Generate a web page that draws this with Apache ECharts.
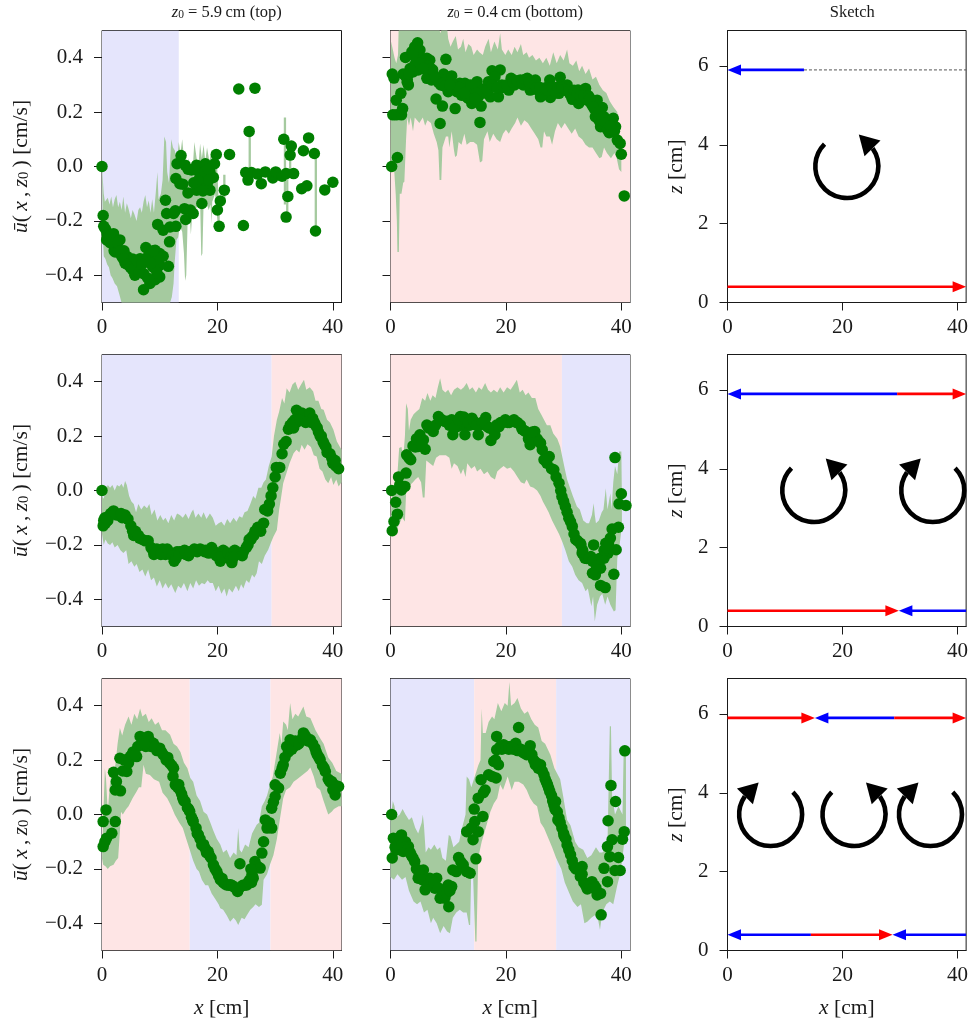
<!DOCTYPE html>
<html><head><meta charset="utf-8">
<style>html,body{margin:0;padding:0;background:#fff}#c{width:971px;height:1023px}</style>
<script src="https://cdn.jsdelivr.net/npm/echarts@6/dist/echarts.min.js"></script>
</head><body><div id="c"></div>
<script>
// ---- tick values
const uTicks=[-0.4,-0.2,0,0.2,0.4];
const xTicks=[0,20,40];
const zTicks=[0,2,4,6];
// ---- sign regions [from,to,sign]
const regions11=[[0,13.3,-1]];
const regions12=[[0,41.5,1]];
const regions21=[[0,29.4,-1],[29.4,41.5,1]];
const regions22=[[0,29.7,1],[29.7,41.5,-1]];
const regions31=[[0,15.2,1],[15.2,29.2,-1],[29.2,41.5,1]];
const regions32=[[0,14.5,-1],[14.5,28.7,1],[28.7,41.5,-1]];
// ---- points [x,u]
const pts11=[[0,0],[.2,-.18],[.3,-.22],[.6,-.23],[.9,-.25],[1.2,-.26],[1.6,-.25],[2,-.247],[1.9,-.27],[2.1,-.31],[2.4,-.29],[2.3,-.314],[2.8,-.31],[3.1,-.27],[3.4,-.33],[3.8,-.31],[4,-.355],[4.3,-.33],[4.6,-.34],[5,-.35],[5.3,-.34],[5.6,-.36],[5.7,-.4],[6.2,-.37],[6.6,-.339],[7.2,-.394],[7.6,-.298],[7.2,-.453],[8.3,-.43],[8,-.33],[8.8,-.369],[9.2,-.308],[9.2,-.416],[10,-.406],[10,-.32],[10,-.363],[10.6,-.33],[11.5,-.367],[11.7,-.277],[9.65,-.213],[10.6,-.234],[11.2,-.173],[11,-.124],[11.8,-.222],[12.4,-.173],[12.7,-.163],[12.8,-.22],[12.8,-.044],[13.5,-.063],[14,-.065],[13,.01],[13.7,.04],[14.4,.005],[14.9,-.01],[15.5,-.013],[14.9,-.097],[14.3,-.155],[14.5,-.195],[15.3,-.16],[15.8,-.173],[16.4,.005],[16.9,.0],[17.9,.01],[17.3,-.136],[16.4,-.087],[17,-.08],[17.6,-.063],[17,-.03],[18,-.04],[18.2,-.07],[18.7,-.087],[18.7,-.02],[19.3,-.04],[19.5,.01],[19.8,.044],[20,-.16],[20.3,-.22],[20.5,-.127],[21.2,-.087],[22.1,.044],[23.7,.285],[26.5,.288],[25.5,.129],[24.5,-.217],[24.9,-.022],[25.3,-.05],[25.9,-.022],[27,-.028],[27.6,-.063],[28.3,-.02],[29.6,-.042],[30.1,-.02],[31.2,-.036],[31.5,.1],[31.9,-.026],[31.9,-.186],[32.2,-.11],[32.6,.042],[32.8,.075],[33.2,-.026],[34.6,-.082],[34.9,.058],[35.5,-.071],[35.8,.105],[36.8,.048],[37,-.237],[38.6,-.086],[40,-.058],[.8,-.27],[1.4,-.28],[2.7,-.28],[3.2,-.31],[3.7,-.34],[4.4,-.36],[4.9,-.37],[5.3,-.38],[6,-.345],[6.4,-.39],[6.9,-.36],[7.9,-.41],[9.5,-.39],[9.6,-.34],[8.4,-.355],[8.9,-.31],[16,-.01],[15.9,-.06],[16.9,-.045],[17.8,-.02],[18.4,-.01],[18.5,-.05],[17.5,-.09]];
const pts12=[[.2,0],[.6,.325],[.3,.34],[.4,.19],[1,.19],[1.9,.19],[2.1,.213],[1,.244],[1.8,.269],[1.2,.033],[2.6,.401],[2.5,.336],[3.1,.3],[2.9,.32],[3.4,.36],[3.9,.348],[4.8,.355],[3.7,.422],[4.7,.455],[4.2,.44],[5.1,.428],[5.4,.398],[6.3,.398],[6.8,.391],[7.3,.355],[6.3,.324],[7.1,.318],[7.9,.248],[9,.222],[8.6,.158],[9.6,.394],[9.2,.34],[9.7,.318],[10.6,.333],[8.7,.3],[10,.275],[11.2,.213],[12,.306],[12.9,.306],[11.5,.275],[12.3,.262],[13.2,.256],[14.1,.232],[15,.312],[14.4,.281],[15.2,.256],[15.7,.222],[15.5,.162],[16.4,.287],[17,.312],[17.6,.352],[19,.355],[18.1,.33],[17.3,.256],[18.7,.256],[19.3,.3],[20.5,.281],[20.9,.324],[21.5,.3],[22.5,.318],[23,.3],[23.7,.324],[24.2,.281],[24.6,.3],[25.1,.318],[25.6,.28],[26,.256],[26.5,.287],[27,.29],[27.6,.318],[27.7,.254],[28.3,.28],[28.8,.29],[29.4,.328],[29.2,.269],[30,.28],[30.6,.3],[31,.27],[31.5,.247],[32,.26],[32.6,.232],[32.5,.281],[33.2,.27],[33.8,.287],[34.1,.244],[34.8,.23],[35.4,.21],[35.8,.244],[36.7,.217],[35.5,.183],[36.4,.146],[36.1,.17],[37,.183],[37.4,.15],[37.9,.124],[38.6,.177],[38.3,.14],[39,.146],[39.3,.097],[39.8,.085],[40,.045],[40.5,-.108],
[10.9,.3],[11.8,.29],[12.6,.285],[13.6,.28],[13.9,.3],[14.7,.3],[15.9,.28],[16.2,.27],[16.8,.28],[17.6,.3],[18.4,.29],[19.6,.29],[20.1,.3],[21.2,.31],[21.9,.315],[22.8,.31],[23.3,.32],[24,.31],[24.9,.3],[25.3,.29],[25.9,.29],[26.3,.265],[26.8,.28],[27.2,.28],[28,.29],[28.6,.27],[29,.29],[29.7,.29],[30.3,.285],[30.9,.28],[31.3,.26],[31.8,.28],[32.3,.265],[32.9,.26],[33.5,.26],[34.3,.26],[34.6,.25],[35.1,.22],[36,.2],[36.6,.18],[37.2,.16],[37.6,.135],[38.1,.15],[38.8,.13],[5.9,.39],[6.6,.37],[4.4,.38],[3.9,.41],[4.1,.37],[5,.38],[2.9,.31],[2.2,.34],[7.7,.33],[8.3,.31],[8.9,.305],[9.4,.295],[10.3,.3],[7,.36],[5.7,.36],[3.2,.34],[14.9,.27],[13.5,.25],[14.6,.25],[12.8,.27]];
const pts21=[[0,0],[.3,-.11],[.6,-.12],[1,-.11],[1.5,-.085],[2,-.075],[2.5,-.09],[3,-.09],[3.5,-.1],[4,-.09],[4.5,-.105],[5,-.13],[5.5,-.165],[6,-.16],[6.5,-.175],[7,-.18],[7.5,-.185],[8,-.185],[8.5,-.21],[9,-.235],[9.5,-.215],[10,-.22],[10.5,-.215],[11,-.235],[11.5,-.225],[12,-.23],[12.5,-.26],[13,-.225],[13.5,-.225],[14,-.225],[14.5,-.235],[15,-.24],[15.5,-.225],[16,-.215],[16.5,-.225],[17,-.215],[17.5,-.22],[18,-.22],[18.5,-.23],[19,-.21],[19.5,-.225],[20,-.235],[20.5,-.26],[21,-.22],[21.5,-.245],[22,-.25],[22.5,-.265],[23,-.22],[23.5,-.23],[24,-.23],[24.5,-.225],[25,-.21],[25.5,-.18],[26,-.17],[26.5,-.15],[27,-.135],[27.5,-.15],[28,-.12],[28.2,-.07],[28.7,-.075],[29,-.05],[29.3,-.02],[29.6,.01],[30,.05],[30.2,.085],[30.8,.085],[31.2,.135],[31.5,.17],[31.9,.18],[32.3,.225],[32.6,.24],[33,.25],[33.4,.26],[33.7,.295],[34.2,.275],[34.6,.285],[35,.28],[35.5,.27],[36,.285],[36.5,.265],[37,.24],[37.5,.215],[38,.2],[38.5,.17],[39,.14],[39.5,.135],[40,.1],[40.5,.09],[41,.08],
[8.8,-.22],[9.3,-.23],[10.2,-.235],[11.3,-.215],[12.2,-.24],[12.8,-.25],[13.3,-.235],[14.3,-.22],[15.2,-.225],[17.8,-.225],[19.8,-.24],[20.3,-.245],[20.8,-.245],[21.8,-.23],[22.3,-.245],[22.8,-.245],[24.3,-.24],[1.2,-.095],[2.3,-.085],[3.3,-.085],[4.2,-.1],[5.3,-.15],[5.8,-.15],[6.3,-.165],[.2,-.13],[.5,-.1],[25.3,-.2],[25.8,-.18],[26.3,-.165],[26.8,-.145],[33.2,.23],[33.7,.25],[34.3,.26],[35.3,.25],[36.3,.25],[36.8,.25],[37.3,.23],[37.8,.2],[38.3,.18],[38.8,.16],[39.8,.12],[40.4,.11]];
const pts22=[[.2,0],[.3,-.148],[.6,-.114],[1.2,-.087],[.9,-.043],[1.6,.02],[1.9,.002],[2.5,.015],[1.4,.05],[2.7,.064],[2.8,.131],[3.5,.113],[3.9,.164],[4.8,.162],[6,.152],[5.1,.205],[5.7,.186],[6.3,.241],[6.9,.23],[7.4,.217],[8.3,.272],[8.9,.26],[9.4,.254],[10,.25],[10.8,.205],[10.6,.26],[11.2,.25],[12.1,.272],[11.5,.235],[12.4,.24],[12.9,.205],[13.2,.24],[14.1,.266],[13.7,.24],[14.6,.245],[15.2,.205],[15.5,.241],[16,.245],[16.5,.268],[16.8,.235],[17.4,.184],[18.1,.205],[18.4,.241],[19.1,.25],[19.9,.26],[20.6,.25],[21.4,.26],[22,.25],[22.5,.241],[23.4,.217],[23.9,.19],[24.2,.168],[25,.217],[25.4,.19],[26,.174],[26.6,.113],[27.5,.125],[27.1,.1],[27.9,.08],[28.3,.076],[28.7,.05],[29.2,.027],[29.5,0],[29.7,-.022],[30,-.04],[30.3,-.059],[30.9,-.102],[31.5,-.132],[32.1,-.18],[32.9,-.194],[33.3,-.22],[33.7,-.249],[34.7,-.243],[35.2,-.2],[35,-.304],[35.5,-.31],[36,-.27],[36.4,-.286],[36.4,-.349],[37.2,-.357],[38.7,-.308],[37.3,-.194],[38.1,-.175],[39.1,-.218],[37,-.249],[37.7,-.23],[38.4,-.142],[39.5,-.135],[38.9,.121],[40,-.012],[39.6,-.049],[40.8,-.055],
[6.6,.23],[7.8,.24],[8.6,.26],[9.8,.255],[10.2,.24],[11,.23],[11.8,.26],[12.7,.27],[13.4,.25],[14.4,.255],[14.9,.24],[15.8,.25],[16.3,.25],[17.1,.23],[17.9,.22],[18.8,.235],[19.5,.25],[20.3,.25],[21,.255],[21.8,.25],[22.8,.225],[23.2,.22],[24.5,.19],[24.6,.215],[25.7,.18],[26.3,.15],[26.9,.115],[30.6,-.08],[31.2,-.115],[31.8,-.16],[32.4,-.185],[33,-.2],[33.2,-.23],[34,-.25],[34.4,-.25],[35,-.26],[35.7,-.28],[36.2,-.25],[36.6,-.25],[37,-.22],[37.4,-.21],[37.8,-.2],[4.3,.16],[4.5,.19],[3.2,.12],[5.4,.17]];
const pts31=[[.7,.017],[.2,-.026],[.2,-.118],[.5,-.1],[.8,-.087],[1.7,-.069],[2.3,-.026],[2,.155],[2.3,.09],[2.5,.121],[3.2,.087],[3.1,.207],[3.6,.16],[4.3,.158],[3.9,.2],[4.9,.213],[5.4,.23],[6,.213],[6.6,.287],[6.2,.25],[7.2,.269],[7.6,.25],[8,.287],[8.5,.25],[8.9,.262],[9.5,.235],[10,.244],[10.6,.22],[11.1,.201],[11.7,.19],[12.4,.17],[12.3,.14],[12.7,.109],[13.1,.1],[13.5,.09],[14,.06],[14.4,.048],[14.8,.025],[15.2,.011],[15.5,-.01],[15.8,-.026],[16.3,-.05],[16.7,-.075],[17,-.09],[17.3,-.112],[17.9,-.125],[18.4,-.136],[18.9,-.16],[19.3,-.185],[19.9,-.21],[20.5,-.24],[21,-.25],[21.6,-.259],[22.2,-.258],[22.8,-.265],[23.5,-.283],[23.9,-.181],[24.4,-.26],[25.1,-.259],[25.6,-.24],[26.2,-.234],[26.5,-.173],[26.9,-.19],[27.4,-.197],[27.7,-.142],[28,-.1],[28.3,-.02],[28.6,-.05],[29,-.03],[29.4,-.05],[29.4,.023],[29.7,.045],[30,.066],[30,.109],[30.6,.097],[30.9,.152],[31.4,.183],[31.2,.17],[32,.25],[31.7,.21],[32.6,.275],[33.2,.25],[33.8,.256],[34.4,.27],[34.9,.3],[35.5,.28],[36.1,.275],[36.5,.26],[36.9,.244],[37.3,.22],[37.8,.201],[38.2,.18],[38.7,.158],[39.2,.13],[39.8,.121],[40.4,.072],[40.2,.11],[41,.103],
[8.3,.27],[9.2,.25],[10.3,.23],[11.4,.21],[12.1,.18],[13.3,.11],[13.8,.075],[14.2,.05],[15,.02],[15.7,-.02],[16.5,-.07],[17.6,-.11],[18.1,-.14],[18.6,-.15],[19.6,-.2],[20.2,-.225],[20.8,-.235],[21.3,-.255],[22,-.26],[22.5,-.26],[23.1,-.27],[23.8,-.27],[24.7,-.26],[25.3,-.25],[25.9,-.25],[32.3,.23],[32.9,.24],[33.5,.27],[34.1,.26],[34.7,.28],[35.2,.29],[35.8,.27],[37.1,.23],[37.6,.21],[38.5,.17],[39.5,.12],[40,.09],[4.6,.19],[5.2,.22],[5.7,.22],[6.9,.26],[7.4,.26],[26,-.22],[25.8,-.2]];
const pts32=[[.2,0],[.3,-.16],[.5,-.087],[1,-.13],[1.4,-.09],[1.9,-.075],[2.2,-.136],[2.6,-.1],[3.1,-.118],[3.6,-.15],[4.2,-.173],[4.8,-.234],[5.7,-.204],[5.2,-.22],[6,-.277],[6.8,-.234],[8,-.234],[7.2,-.25],[7.7,-.271],[8.6,-.308],[9.4,-.308],[10.1,-.339],[10,-.259],[10.6,-.265],[10.8,-.204],[11.4,-.21],[11.8,-.158],[12.2,-.175],[12.6,-.185],[13.2,-.21],[13.8,-.216],[13.2,-.063],[14.3,-.093],[15.2,-.063],[14.8,-.163],[14.6,-.026],[14,-.05],[14.5,.02],[15.2,.06],[16,-.007],[15.7,.128],[16.4,.09],[16.1,.08],[17,.146],[18.3,.134],[17.6,.14],[17.9,.195],[18.7,.183],[18.2,.2],[18.4,.287],[18.4,.238],[19,.25],[19.6,.256],[20.2,.25],[20.8,.25],[21.3,.24],[21.7,.262],[22.2,.32],[22.6,.24],[23.1,.226],[23.6,.22],[24.2,.253],[24.8,.2],[25.1,.183],[26,.183],[25.6,.17],[26.6,.146],[27,.12],[27.4,.097],[27.9,.07],[28.3,.036],[28.6,.048],[28.9,.01],[29.2,-.013],[29.7,-.05],[30.1,-.08],[30.6,-.112],[31.2,-.148],[31.8,-.191],[33.2,-.191],[32.4,-.2],[32.9,-.228],[33.5,-.25],[34.1,-.274],[34.9,-.247],[35.3,-.26],[35.8,-.296],[36.5,-.369],[36.4,-.29],[37,-.198],[37.6,-.247],[37.6,-.118],[38,-.155],[38.2,.107],[37.7,-.023],[39,.048],[38.4,-.093],[39.5,-.158],[38.9,-.206],[39.8,-.206],[40.2,-.091],[40.5,-.063],[40.6,.234],
[19.3,.24],[20,.245],[20.5,.24],[21,.245],[22,.235],[22.4,.235],[22.9,.23],[23.4,.235],[24,.24],[24.5,.22],[25.3,.19],[25.8,.18],[26.3,.16],[26.8,.13],[27.2,.11],[27.6,.085],[28.1,.05],[28.5,.02],[29,-.02],[29.4,-.03],[30,-.07],[30.4,-.09],[30.9,-.13],[31.5,-.17],[32.1,-.2],[32.7,-.205],[33.2,-.22],[33.8,-.26],[34.5,-.26],[35.1,-.27],[35.6,-.27],[.8,-.12],[1.2,-.11],[1.6,-.085],[2,-.11],[2.4,-.12],[2.9,-.13],[3.4,-.14],[3.9,-.16],[4.5,-.2],[5,-.22],[5.5,-.24],[6.4,-.26],[7,-.24],[7.5,-.25],[8.3,-.27],[9,-.29],[9.7,-.29],[10.3,-.28]];
// ---- spread envelope, upper and lower edges [x,u]
const hi11=[[0,0],[.3,-.1],[.5,-.13],[.8,-.12],[1,-.115],[1.3,-.14],[1.6,-.11],[1.9,-.15],[2.2,-.12],[2.5,-.105],[2.8,-.15],[3.1,-.13],[3.4,-.16],[3.7,-.11],[4,-.17],[4.3,-.135],[4.6,-.155],[5,-.19],[5.3,-.16],[5.6,-.175],[6,-.2],[6.3,-.16],[6.6,-.15],[6.9,-.17],[7.2,-.13],[7.5,-.105],[7.8,-.15],[8.1,-.125],[8.4,-.17],[8.7,-.12],[9,-.17],[9.3,-.1],[9.6,-.02],[9.8,-.12],[10.2,-.1],[10.5,-.05],[10.8,.11],[11.1,.09],[11.3,-.02],[11.6,-.06],[12,.1],[12.3,.07],[12.6,.06],[13,.02],[13.3,.09],[13.6,.05],[13.9,.1],[14.2,.03],[14.6,-.02],[15,.03],[15.4,-.03],[15.8,.02],[16,.09],[16.4,.03],[16.7,0],[17,.085],[17.3,.03],[17.6,.08],[17.9,.02],[18.2,.07],[18.6,.02],[19,.06],[19.4,.05],[19.9,.03],[20,-.02],[20.2,-.12],[20.4,-.13]];
const lo11=[[0,0],[.15,-.25],[.3,-.33],[.6,-.34],[.9,-.36],[1.2,-.37],[1.5,-.4],[1.8,-.41],[2.2,-.43],[2.6,-.44],[3,-.47],[3.5,-.51],[3.8,-.55],[11.5,-.55],[11.8,-.5],[12.1,-.48],[12.4,-.43],[12.6,-.35],[12.9,-.27],[13.2,-.26],[13.5,-.22],[13.9,-.24],[14.2,-.32],[14.4,-.42],[14.6,-.4],[14.9,-.15],[15.2,-.18],[15.4,-.25],[15.7,-.16],[16,-.19],[16.5,-.14],[17,-.13],[17.2,-.33],[17.4,-.32],[17.6,-.14],[18,-.13],[18.5,-.16],[18.8,-.14],[19,-.21],[19.1,-.13],[19.6,-.1],[20,-.2],[20.2,-.23],[20.4,-.2]];
const strips11=[[21,-.03,-.12],[25.4,.12,-.03],[31.5,.18,-.14],[31.9,-.02,-.17],[36.85,.05,-.24],[32.4,.05,-.03]];
const hi12=[[0,0],[.1,.46],[.4,.43],[.7,.4],[1,.38],[1.3,.41],[1.4,.496],[1.8,.53],[2.5,.56],[7,.56],[8.2,.55],[8.6,.49],[9,.51],[9.6,.55],[10,.47],[10.4,.44],[10.8,.46],[11.3,.48],[11.7,.43],[12.2,.44],[12.6,.47],[13,.42],[13.5,.45],[14,.44],[14.4,.41],[15,.43],[15.4,.42],[16,.41],[16.4,.44],[17,.47],[17.4,.42],[18,.46],[18.6,.43],[19,.49],[19.3,.43],[19.9,.41],[20.4,.43],[21,.41],[21.5,.44],[22,.42],[22.6,.45],[23,.41],[23.6,.42],[24,.4],[24.6,.41],[25.2,.39],[25.8,.4],[26.4,.38],[27,.4],[27.6,.37],[28.2,.42],[28.8,.38],[29.4,.41],[30,.39],[30.6,.43],[31,.38],[31.6,.37],[32.2,.39],[32.7,.35],[33.2,.37],[33.8,.34],[34.4,.36],[35,.32],[35.6,.33],[36.2,.3],[36.8,.28],[37.4,.27],[38,.24],[38.6,.22],[39.3,.2],[39.6,.1],[40,.08]];
const lo12=[[0,0],[.3,.0],[.6,.0],[.9,-.1],[1.1,-.2],[1.2,-.314],[1.45,-.314],[1.6,-.1],[1.9,-.1],[2.2,-.06],[2.4,-.056],[2.7,.1],[2.9,.18],[3.2,.15],[3.5,.18],[3.9,.13],[4.2,.18],[4.6,.17],[5,.16],[5.6,.18],[6,.15],[6.4,.17],[7,.16],[7.5,.12],[8,.09],[8.3,.06],[8.5,-.05],[8.8,-.05],[9,.07],[9.6,.11],[10,.11],[10.2,.07],[10.6,.13],[11,.06],[11.2,.035],[11.5,.04],[11.8,.09],[12.3,.08],[12.8,.12],[13.2,.08],[13.8,.09],[14.4,.09],[15,.08],[15.5,.015],[15.9,.02],[16.2,.1],[16.8,.13],[17.2,.09],[17.8,.12],[18.4,.1],[19,.09],[19.5,.12],[20,.135],[20.5,.12],[21,.14],[21.6,.16],[22,.18],[22.6,.15],[23.2,.17],[23.8,.16],[24.4,.14],[25,.12],[25.6,.1],[26,.07],[26.3,.07],[26.6,.13],[27,.11],[27.6,.11],[28,.08],[28.5,.13],[29,.16],[29.6,.14],[30.2,.16],[30.8,.14],[31.4,.12],[32,.14],[32.6,.11],[33.2,.1],[33.8,.08],[34.4,.07],[35,.07],[35.6,.05],[36.2,.03],[36.6,.035],[37,.07],[37.5,.05],[38.2,.03],[38.8,.05],[39.2,.03],[39.6,-.01],[40,-.02]];
const hi21=[[0,-.02],[.3,-.03],[.6,.0],[1,.02],[1.4,.01],[1.8,.02],[2.2,.0],[2.6,.02],[3,.015],[3.4,.025],[3.7,.01],[4,.035],[4.3,.02],[4.7,-.02],[5.1,-.04],[5.5,-.05],[5.9,-.08],[6.3,-.05],[6.8,-.07],[7.3,-.055],[7.8,-.065],[8.2,-.05],[8.6,-.09],[9.1,-.07],[9.6,-.11],[10.1,-.09],[10.6,-.11],[11,-.1],[11.5,-.12],[12,-.09],[12.5,-.11],[13,-.085],[13.5,-.09],[14,-.1],[14.5,-.085],[15,-.105],[15.5,-.08],[15.8,-.07],[16.2,-.1],[16.7,-.085],[17.2,-.1],[17.6,-.08],[18.1,-.105],[18.7,-.085],[19.2,-.1],[19.7,-.13],[20.2,-.12],[20.7,-.115],[21.2,-.13],[21.7,-.105],[22.2,-.12],[22.8,-.1],[23.3,-.115],[23.8,-.095],[24.3,-.1],[24.7,-.08],[25.2,-.075],[25.7,-.05],[26.2,-.02],[26.6,-.03],[27.1,.01],[27.6,.01],[28,.03],[28.4,.04],[28.9,.09],[29.4,.125],[29.8,.2],[30.3,.26],[30.7,.29],[31.2,.34],[31.6,.32],[32,.376],[32.5,.36],[33,.39],[33.5,.4],[34,.37],[34.5,.39],[35,.407],[35.4,.37],[36,.38],[36.6,.364],[37,.33],[37.5,.33],[38,.3],[38.4,.297],[39,.26],[39.5,.25],[40.1,.223],[40.7,.18],[41.5,.15]];
const lo21=[[0,-.16],[.3,-.2],[.6,-.18],[1,-.195],[1.4,-.2],[1.8,-.19],[2.2,-.21],[2.7,-.2],[3.2,-.22],[3.7,-.23],[4.2,-.22],[4.6,-.27],[5.1,-.26],[5.6,-.28],[6,-.27],[6.5,-.3],[7,-.29],[7.5,-.316],[8,-.29],[8.5,-.33],[9,-.32],[9.5,-.353],[10,-.33],[10.5,-.36],[11,-.34],[11.5,-.36],[12,-.345],[12.7,-.377],[13.2,-.35],[13.7,-.36],[14.2,-.34],[14.8,-.37],[15.3,-.34],[15.8,-.36],[16.3,-.33],[16.8,-.35],[17.3,-.34],[17.8,-.345],[18.3,-.33],[18.7,-.34],[19.2,-.34],[19.7,-.37],[20.2,-.35],[20.7,-.38],[21.2,-.36],[21.6,-.39],[22,-.36],[22.6,-.375],[23.2,-.35],[23.7,-.37],[24.1,-.345],[24.5,-.36],[25,-.33],[25.5,-.34],[26,-.31],[26.4,-.32],[26.8,-.304],[27.2,-.26],[27.7,-.27],[28.2,-.24],[28.8,-.218],[29.3,-.19],[29.7,-.17],[30.3,-.145],[30.7,-.07],[31,-.03],[31.4,.027],[31.9,.06],[32.5,.1],[33.2,.137],[33.7,.15],[34.2,.14],[34.6,.168],[35.1,.15],[35.6,.17],[36.2,.16],[36.7,.13],[37.2,.125],[37.7,.08],[38.2,.07],[38.7,.04],[39.2,.027],[39.7,.05],[40.1,.02],[40.6,.04],[41,.015],[41.5,.03]];
const hi22=[[0,-.1],[.3,-.02],[.6,.0],[.8,.05],[1.1,.03],[1.5,.156],[1.9,.16],[2.2,.12],[2.5,.2],[2.7,.321],[3,.3],[3.2,.22],[3.5,.26],[4,.28],[4.5,.29],[5,.3],[5.5,.34],[6,.33],[6.4,.358],[6.9,.33],[7.3,.35],[7.8,.34],[8.2,.38],[8.6,.413],[9,.37],[9.5,.36],[10,.37],[10.5,.35],[11,.37],[11.6,.38],[12.2,.37],[12.7,.38],[13.2,.395],[13.7,.37],[14.2,.38],[14.8,.36],[15.3,.38],[15.8,.37],[16.4,.395],[16.9,.37],[17.4,.36],[17.9,.37],[18.5,.36],[19,.38],[19.6,.36],[20.2,.38],[20.8,.37],[21.4,.39],[21.9,.407],[22.4,.36],[22.9,.37],[23.4,.35],[23.9,.36],[24.5,.34],[25.1,.34],[25.6,.3],[26.1,.28],[26.6,.26],[27.1,.24],[27.7,.24],[28.2,.21],[28.9,.19],[29.4,.162],[29.8,.12],[30.2,.08],[30.6,.04],[31.1,.01],[31.6,-.02],[32.3,-.059],[32.8,-.07],[33.4,-.11],[34,-.12],[34.4,-.12],[34.9,-.09],[35.2,-.047],[35.4,-.09],[35.6,-.12],[36.1,-.11],[36.6,-.08],[36.9,-.07],[37.3,.008],[37.6,-.07],[38.1,-.01],[38.3,-.07],[38.6,.03],[38.9,.09],[39.3,.06],[39.6,.143],[40,.143],[40.1,-.03]];
const lo22=[[0,-.17],[.4,-.16],[.9,-.15],[1.4,-.13],[2,-.1],[2.5,-.114],[2.7,-.01],[3,.03],[3.4,.02],[3.9,.03],[4.3,.04],[4.8,.05],[5.3,.03],[5.6,-.026],[5.9,-.026],[6.2,.11],[6.8,.1],[7.4,.09],[7.9,.12],[8.5,.13],[9,.13],[9.6,.13],[10.2,.12],[10.6,.08],[11,.1],[11.6,.09],[12.2,.06],[12.6,.08],[13,.05],[13.3,.1],[14,.08],[14.6,.09],[15,.07],[15.6,.08],[16.2,.06],[16.8,.07],[17.4,.05],[18.1,.04],[18.5,.07],[19,.08],[19.6,.09],[20.2,.08],[20.8,.085],[21.4,.07],[22,.05],[22.6,.03],[23.2,.025],[23.6,.04],[24.2,.015],[24.8,.01],[25.4,.0],[26,-.02],[26.4,-.04],[26.9,-.06],[27.4,-.08],[28,-.11],[28.6,-.135],[29.2,-.16],[29.8,-.19],[30.3,-.22],[30.9,-.26],[31.5,-.28],[32,-.31],[32.6,-.33],[33.2,-.34],[33.8,-.37],[34.2,-.36],[34.8,-.426],[35.1,-.39],[35.4,-.482],[35.8,-.42],[36.3,-.39],[36.7,-.38],[37.2,-.42],[37.6,-.39],[38.1,-.42],[38.7,-.445],[39,-.44],[39.3,-.25],[39.7,-.2],[40.1,-.13]];
const hi31=[[0,-.17],[.2,-.02],[.5,.17],[.7,.13],[1,.01],[1.4,.12],[1.8,.16],[2.3,.18],[2.7,.26],[3.1,.318],[3.5,.29],[4,.33],[4.6,.36],[5.1,.33],[5.6,.37],[6.1,.35],[6.6,.39],[7,.36],[7.6,.37],[8.1,.34],[8.6,.354],[9.2,.33],[9.8,.34],[10.4,.31],[11,.31],[11.8,.293],[12.4,.26],[13,.25],[13.6,.23],[14.2,.19],[14.8,.17],[15.3,.134],[15.8,.12],[16.4,.07],[17,.05],[17.6,.01],[18.2,0],[18.7,-.026],[19.3,-.06],[19.9,-.09],[20.5,-.11],[21,-.14],[21.6,-.13],[22.2,-.16],[22.8,-.14],[23.3,-.15],[23.6,-.05],[23.85,-.13],[24.2,-.14],[24.8,-.11],[25.4,-.12],[26,-.07],[26.8,-.038],[27.2,-.03],[27.7,.03],[28.2,.05],[28.6,.07],[29.1,.109],[29.6,.14],[30.2,.22],[30.8,.3],[31.1,.26],[31.4,.342],[31.9,.33],[32.2,.31],[32.6,.41],[33,.35],[33.5,.37],[34,.36],[34.9,.397],[35.4,.36],[36.1,.355],[36.6,.33],[37,.31],[37.8,.28],[38.4,.26],[39.2,.21],[39.9,.19],[40.6,.16],[41.5,.15]];
const lo31=[[0,-.16],[.2,-.185],[.6,-.19],[1,-.2],[1.4,-.19],[2,-.185],[2.4,-.17],[2.8,-.16],[3.1,-.063],[3.3,.01],[3.6,.0],[4.2,.02],[4.6,.03],[5.3,.06],[6,.085],[6.4,.1],[6.8,.1],[7.2,.183],[7.6,.15],[8.3,.145],[9,.13],[9.9,.12],[10.5,.08],[11.3,.06],[12,.03],[12.6,0],[13.4,-.03],[14,-.05],[14.6,-.09],[15.2,-.13],[15.8,-.17],[16.4,-.2],[16.8,-.21],[17.3,-.24],[17.9,-.26],[18.4,-.26],[19,-.29],[19.6,-.31],[20.2,-.33],[20.5,-.345],[21,-.35],[21.6,-.37],[22.2,-.394],[22.8,-.38],[23.2,-.39],[23.6,-.406],[24.2,-.38],[24.7,-.385],[25.1,-.37],[25.7,-.35],[26.2,-.34],[26.6,-.33],[27.2,-.34],[27.7,-.332],[28,-.24],[28.6,-.22],[29.1,-.185],[29.7,-.15],[30.3,-.09],[30.8,-.02],[31.4,.06],[31.9,.09],[32.6,.1],[33.2,.12],[33.8,.13],[34.4,.14],[35,.15],[35.6,.16],[36.1,.173],[36.7,.14],[37.2,.1],[37.8,.09],[38.4,.05],[39.2,.0],[39.8,.01],[40.2,.02],[41,.03],[41.5,.03]];
const hi32=[[0,-.02],[.4,.05],[.7,.03],[1,-.01],[1.6,0],[2.1,.02],[2.6,0],[3.2,-.02],[3.7,-.01],[4.3,-.05],[4.8,-.07],[5.4,-.03],[5.6,.0],[5.8,-.04],[6.1,-.14],[6.6,-.12],[7,-.13],[7.6,-.11],[8.1,-.13],[8.6,-.12],[9,-.16],[9.6,-.17],[10.1,-.075],[10.4,-.08],[10.9,-.12],[11.4,-.11],[11.9,-.1],[12.4,-.05],[13,.0],[13.2,.14],[13.6,.13],[14,.1],[14.6,.14],[15.2,.18],[15.6,.2],[15.8,.39],[16,.3],[16.5,.3],[17,.34],[17.6,.36],[18,.35],[18.6,.41],[19.2,.38],[19.8,.41],[20.3,.4],[20.6,.487],[20.9,.4],[21.5,.41],[22,.428],[22.6,.39],[23.2,.37],[23.8,.38],[24.4,.35],[25,.33],[25.6,.32],[26.2,.27],[26.8,.26],[27.7,.22],[28.4,.17],[29.4,.13],[29.9,.07],[30.6,-.02],[31.2,-.04],[32,-.1],[32.6,-.12],[33.4,-.13],[34.1,-.16],[34.8,-.15],[35.6,-.12],[36.2,-.14],[36.7,-.14],[37.2,-.13],[37.6,-.11],[38,.324],[38.2,.324],[38.4,.07],[38.9,.0],[39.5,.03],[40.2,0],[40.4,.23],[40.8,.23]];
const lo32=[[0,-.23],[.6,-.24],[1.2,-.22],[2,-.24],[2.6,-.23],[3.2,-.28],[4,-.32],[4.6,-.33],[5.2,-.32],[5.8,-.36],[6.4,-.35],[7,-.4],[7.4,-.38],[8,-.4],[8.6,-.437],[9.2,-.41],[9.8,-.43],[10.3,-.437],[10.8,-.38],[11.4,-.36],[12,-.35],[12.6,-.36],[13.2,-.36],[13.6,-.406],[13.8,-.406],[14,-.2],[14.3,-.22],[14.7,-.467],[14.9,-.467],[15.2,-.16],[15.8,-.1],[16.5,-.05],[17.3,.01],[17.9,.04],[18.5,.06],[19,.11],[19.5,.09],[20.3,.14],[21,.09],[21.5,.12],[22.2,.12],[23,.11],[23.6,.09],[24.2,.06],[24.8,.04],[25.4,.03],[26,-.03],[26.6,-.05],[27.4,-.09],[28,-.12],[28.7,-.16],[29.6,-.2],[30.2,-.25],[31,-.29],[31.6,-.32],[32.4,-.34],[33,-.33],[33.6,-.4],[34.1,-.394],[34.8,-.38],[35.4,-.37],[36,-.39],[36.3,-.424],[36.7,-.36],[37.4,-.33],[38,-.32],[38.6,-.33],[39.3,-.26],[39.9,-.21],[40.3,-.14],[40.8,-.05]];
// ---- sketch arrows [from,to,z]; vortices [x,z,turn]
const surf1=[[13.3,0,5.9],[0,41.5,.4]];
const surf2=[[29.5,0,5.9],[29.5,41.5,5.9],[0,29.8,.4],[41.5,29.8,.4]];
const surf3=[[0,15.2,5.9],[29,15.2,5.9],[29,41.5,5.9],[14.5,0,.4],[14.5,28.7,.4],[41.5,28.7,.4]];
const restLine1=[[13.3,5.9],[41.5,5.9]];
const vort1=[[20.75,3.45,1]];
const vort2=[[15,3.45,1],[35.7,3.45,-1]];
const vort3=[[7.5,3.45,-1],[22,3.45,1],[35.3,3.45,-1]];
// ---- labels
const titles=[['5.9','top'],['0.4','bottom']];

const INK='#1a1a1a', FONT='"Liberation Serif","Times New Roman",serif';
const GREEN='#007f00', BAND='#a5ca9f';
const RED_BG='#fee5e5', BLUE_BG='#e5e5fc';
const colL=[102,390.5,727.5], rowT=[30.5,354.5,678.5], W=239.5, H=272;
const TICK=21, NAME=21.5;

const sty=(size,extra)=>Object.assign({fontFamily:FONT,fontSize:size,color:INK,fontWeight:'normal'},extra||{});
const rich={i:sty(NAME,{fontStyle:'italic'}),s:sty(14.5,{verticalAlign:'bottom',lineHeight:21}),n:sty(NAME)};
const richT={i:sty(16.5,{fontStyle:'italic'}),s:sty(11.5,{verticalAlign:'bottom',lineHeight:16}),n:sty(16.5)};

const opt={animation:false,backgroundColor:'#fff',grid:[],xAxis:[],yAxis:[],series:[],
  title:[
   {text:`{i|z}{s|0}{n| = ${titles[0][0]}\u2009cm (${titles[0][1]})}`,left:colL[0]+W/2,top:-1,textAlign:'center',textStyle:{rich:richT,fontWeight:'normal'}},
   {text:`{i|z}{s|0}{n| = ${titles[1][0]}\u2009cm (${titles[1][1]})}`,left:colL[1]+W/2,top:-1,textAlign:'center',textStyle:{rich:richT,fontWeight:'normal'}},
   {text:'{n|Sketch}',left:colL[2]+W/2,top:-1,textAlign:'center',textStyle:{rich:richT,fontWeight:'normal'}}
  ]};

function addAxes(i,c,r,isSketch){
  opt.grid.push({left:colL[c],top:rowT[r],width:W,height:H,show:true,borderColor:INK,borderWidth:1,backgroundColor:'transparent'});
  const base={axisLine:{show:true,onZero:false,lineStyle:{color:INK,width:1}},splitLine:{show:false},minorTick:{show:false}};
  opt.xAxis.push({...base,type:'value',gridIndex:i,min:0,max:41.5,
    axisTick:{show:true,length:8,lineStyle:{color:INK,width:1},customValues:xTicks},
    axisLabel:{show:true,customValues:xTicks,fontFamily:FONT,fontSize:TICK,color:INK,margin:14,hideOverlap:false,showMaxLabel:true,showMinLabel:true},
    name:r===2?'{i|x}{n| [cm]}':'',nameLocation:'middle',nameGap:47,nameTextStyle:{rich}});
  const yt=isSketch?zTicks:uTicks;
  opt.yAxis.push({...base,type:'value',gridIndex:i,min:isSketch?0:-0.5,max:isSketch?6.9:0.5,
    axisTick:{show:true,length:8,lineStyle:{color:INK,width:1},customValues:yt},
    axisLabel:{show:c!==1,customValues:yt,fontFamily:FONT,fontSize:TICK,color:INK,margin:19,
      formatter:v=>isSketch?String(v):v.toFixed(1).replace('-','\u2212').replace(/^\u22120\.0$/,'0.0')},
    name:c===0?'{i|\u016b}{n|(\u2009}{i|x}{n|\u2009,\u2009}{i|z}{s|0}{n|\u2009) [cm/s]}':(c===2?'{i|z}{n| [cm]}':''),
    nameLocation:'middle',nameRotate:90,nameGap:c===0?70:40,nameTextStyle:{rich}});
}

function addPanel(i,regions,hi,lo,pts,strips){
  opt.series.push({type:'custom',xAxisIndex:i,yAxisIndex:i,clip:true,z:1,silent:true,data:regions,
    renderItem:(p,api)=>{
      const a=api.coord([api.value(0),0.5]), b=api.coord([api.value(1),-0.5]);
      return {type:'rect',shape:{x:a[0],y:a[1],width:b[0]-a[0],height:b[1]-a[1]},style:{fill:api.value(2)>0?RED_BG:BLUE_BG}};
    }});
  opt.series.push({type:'custom',xAxisIndex:i,yAxisIndex:i,clip:true,z:2,silent:true,data:[[0]],
    renderItem:(p,api)=>{
      const poly=hi.concat(lo.slice().reverse()).map(q=>api.coord(q));
      const kids=[{type:'polygon',shape:{points:poly},style:{fill:BAND}}];
      (strips||[]).forEach(s=>{
        kids.push({type:'polygon',shape:{points:[[s[0],s[1]],[s[0]+.4,s[1]],[s[0]+.4,s[2]],[s[0],s[2]]].map(q=>api.coord(q))},style:{fill:BAND}});
      });
      return {type:'group',children:kids};
    }});
  opt.series.push({type:'scatter',xAxisIndex:i,yAxisIndex:i,data:pts,symbolSize:11.5,clip:true,z:3,silent:true,
    itemStyle:{color:GREEN,opacity:1}});
}

function addSketch(i,surf,vort,rest){
  if(rest) opt.series.push({type:'line',xAxisIndex:i,yAxisIndex:i,data:rest,showSymbol:false,z:1,silent:true,
    lineStyle:{color:'#555',width:1,type:[3,2]}});
  opt.series.push({type:'custom',xAxisIndex:i,yAxisIndex:i,z:2,silent:true,data:surf,
    renderItem:(p,api)=>{
      const a=api.coord([api.value(0),api.value(2)]), b=api.coord([api.value(1),api.value(2)]);
      const dir=b[0]>a[0]?1:-1, col=dir>0?'#ff0000':'#0000ff';
      return {type:'group',children:[
        {type:'line',shape:{x1:a[0],y1:a[1],x2:b[0]-dir*6,y2:b[1]},style:{stroke:col,lineWidth:2.6}},
        {type:'polygon',shape:{points:[[b[0],b[1]],[b[0]-dir*13.5,b[1]-5.5],[b[0]-dir*13.5,b[1]+5.5]]},style:{fill:col}}
      ]};
    }});
  opt.series.push({type:'custom',xAxisIndex:i,yAxisIndex:i,z:3,silent:true,data:vort,
    renderItem:(p,api)=>{
      const c=api.coord([api.value(0),api.value(1)]), m=api.value(2);
      const deg=Math.PI/180;
      const s=m>0?-35:-45, e=m>0?225:215;
      return {type:'group',children:[
        {type:'arc',shape:{cx:c[0],cy:c[1],r:31.5,startAngle:s*deg,endAngle:e*deg,clockwise:true},
         style:{stroke:'#000',fill:null,lineWidth:4.6,lineCap:'butt'}},
        {type:'polygon',shape:{points:[[c[0]+m*12,c[1]-32],[c[0]+m*33.7,c[1]-26],[c[0]+m*17.7,c[1]-10.3]]},style:{fill:'#000'}}
      ]};
    }});
}

const panels=[[regions11,hi11,lo11,pts11,strips11],[regions12,hi12,lo12,pts12],[null,surf1,vort1,restLine1],
 [regions21,hi21,lo21,pts21],[regions22,hi22,lo22,pts22],[null,surf2,vort2],
 [regions31,hi31,lo31,pts31],[regions32,hi32,lo32,pts32],[null,surf3,vort3]];
panels.forEach((p,i)=>{
  const c=i%3,r=Math.floor(i/3);
  addAxes(i,c,r,c===2);
  if(c===2) addSketch(i,p[1],p[2],p[3]); else addPanel(i,p[0],p[1],p[2],p[3],p[4]);
});
const chart=echarts.init(document.getElementById('c'),null,{renderer:'canvas'});
chart.setOption(opt);
</script></body></html>
